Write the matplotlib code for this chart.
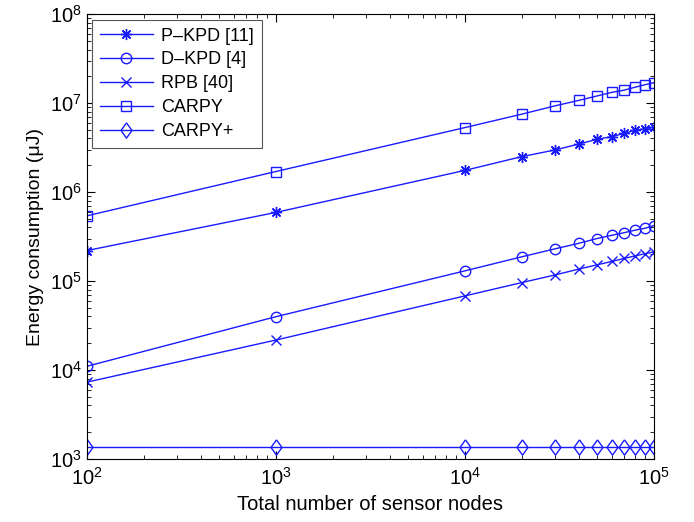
import matplotlib
matplotlib.use("Agg")
import matplotlib.pyplot as plt

# number of sensor nodes
nodes = [100, 1000, 10000, 20000, 30000, 40000, 50000,
         60000, 70000, 80000, 90000, 100000]

# energy consumption (uJ)
p_kpd = [2.2e5, 5.9e5, 1.75e6, 2.5e6, 2.97e6, 3.46e6, 3.91e6,
         4.2e6, 4.57e6, 4.95e6, 5.15e6, 5.34e6]
d_kpd = [1.1e4, 3.97e4, 1.3e5, 1.87e5, 2.3e5, 2.65e5, 3.0e5,
         3.27e5, 3.5e5, 3.74e5, 3.92e5, 4.2e5]
rpb = [7.3e3, 2.17e4, 6.8e4, 9.6e4, 1.17e5, 1.36e5, 1.52e5,
       1.66e5, 1.8e5, 1.92e5, 2.03e5, 2.12e5]
carpy = [5.4e5, 1.7e6, 5.3e6, 7.5e6, 9.3e6, 1.07e7, 1.2e7,
         1.32e7, 1.4e7, 1.51e7, 1.61e7, 1.69e7]
carpy_plus = [1.36e3] * len(nodes)

plt.rcParams['font.family'] = ['Liberation Sans', 'DejaVu Sans']
plt.rcParams['mathtext.default'] = 'regular'

fig = plt.figure(figsize=(6.94, 5.22), dpi=100)
ax = fig.add_axes([0.125, 0.1207, 0.817, 0.8523])

col = '#1a1aff'
diamond = [(0, 1), (0.72, 0), (0, -1), (-0.72, 0), (0, 1)]
ax.plot(nodes, p_kpd, color=col, lw=1, marker=(8, 2, 0), ms=8, mew=1, label='P\u2013KPD [11]')
ax.plot(nodes, d_kpd, color=col, lw=1, marker='o', ms=7.5, mfc='none', label='D\u2013KPD [4]')
ax.plot(nodes, rpb, color=col, lw=1, marker='x', ms=6.5, label='RPB [40]')
ax.plot(nodes, carpy, color=col, lw=1, marker='s', ms=7, mfc='none', label='CARPY')
ax.plot(nodes, carpy_plus, color=col, lw=1, marker=diamond, ms=11, mfc='none', label='CARPY+')

ax.set_xscale('log')
ax.set_yscale('log')
ax.set_xlim(1e2, 1e5)
ax.set_ylim(1e3, 1e8)

ax.tick_params(which='both', direction='in', top=True, right=True, labelsize=14.5)
ax.tick_params(which='major', length=6)
ax.tick_params(which='minor', length=3)
ax.tick_params(axis='x', pad=6)

ax.set_xlabel('Total number of sensor nodes', fontsize=14.5)
ax.set_ylabel('Energy consumption (\u03bcJ)', fontsize=14)

leg = ax.legend(loc='upper left', fontsize=13, fancybox=False, framealpha=1,
                edgecolor='#555555', handlelength=2.9, handletextpad=0.45,
                borderaxespad=0.3, labelspacing=0.38, borderpad=0.45)
leg.get_frame().set_linewidth(0.8)

fig.savefig('out.png', dpi=100)
